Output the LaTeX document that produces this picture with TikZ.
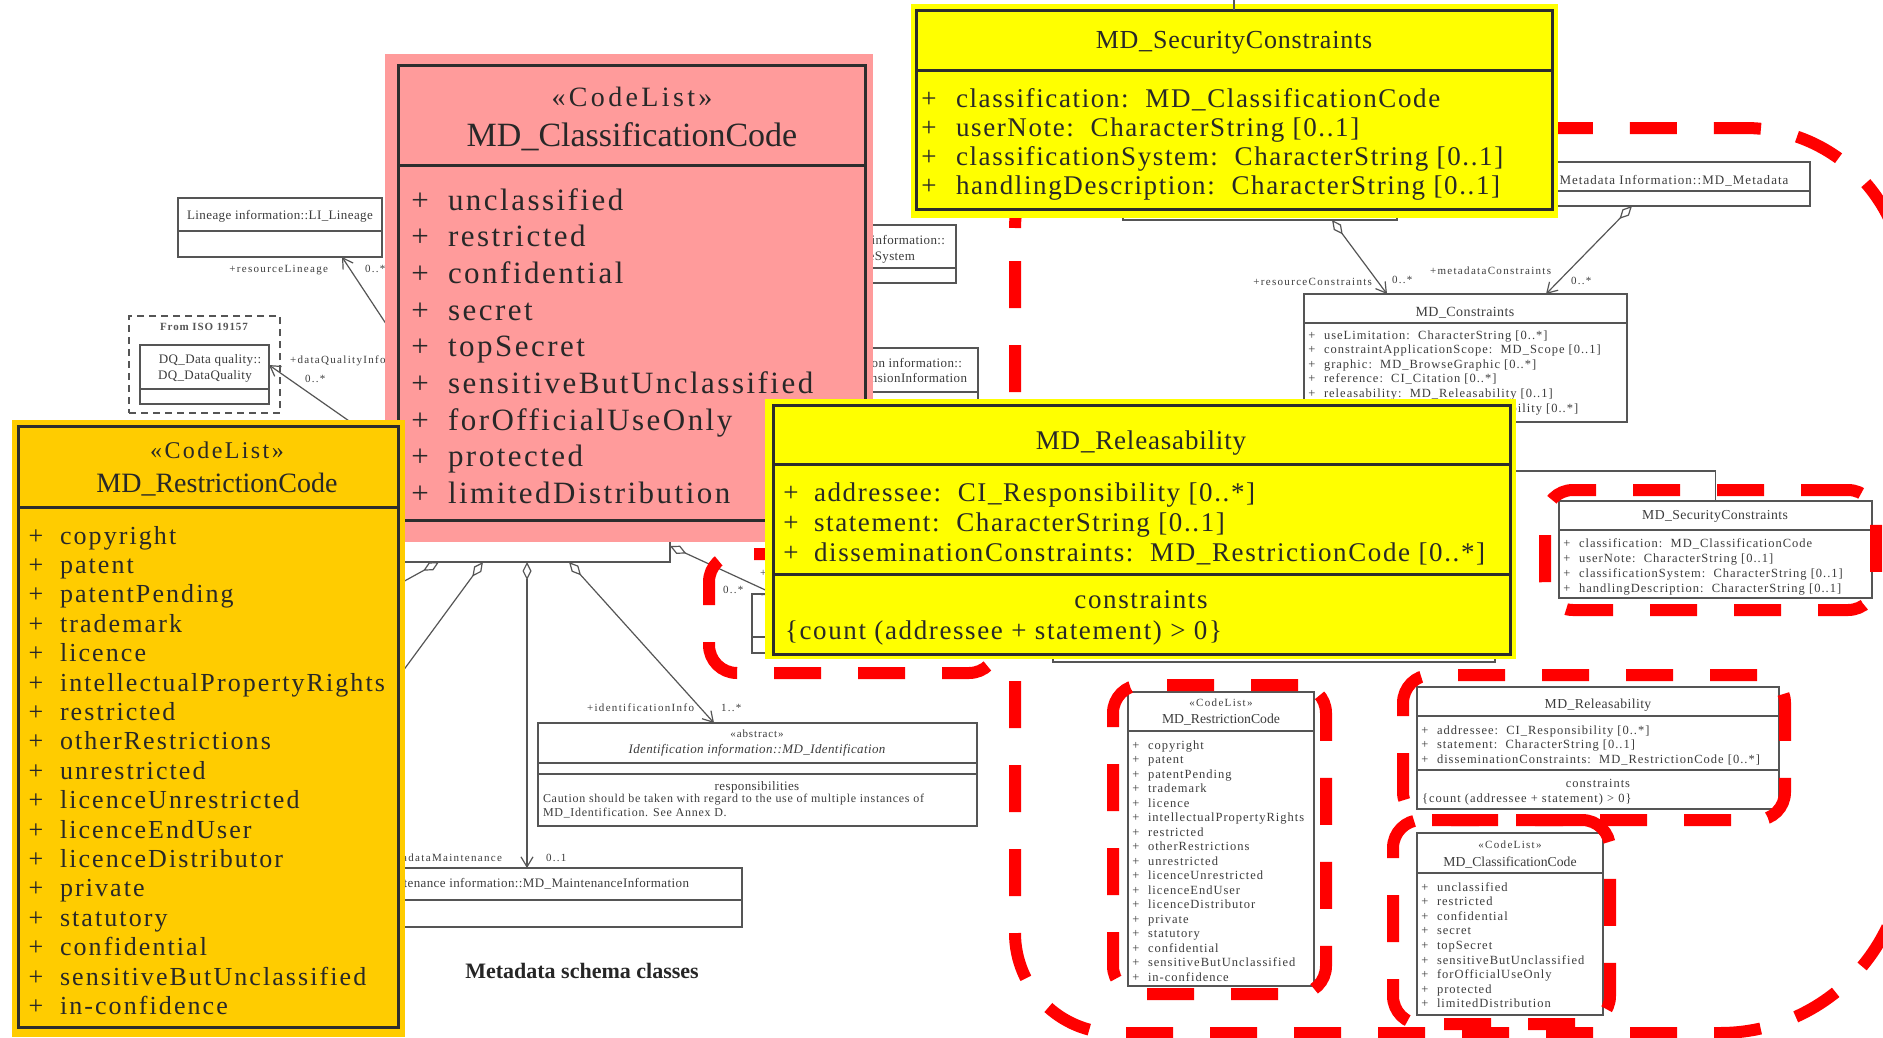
\documentclass[tikz,border=0pt]{standalone}
\usepackage{fontspec}
\setmainfont{Liberation Serif}
\newfontfamily\fLa{Liberation Serif}[LetterSpace=3]
\newfontfamily\fLb{Liberation Serif}[LetterSpace=6]
\newfontfamily\fLc{Liberation Serif}[LetterSpace=8]
\newfontfamily\fLd{Liberation Serif}[LetterSpace=10]
\newfontfamily\fLe{Liberation Serif}[LetterSpace=12]
\newcommand\sz[1]{\fontsize{#1}{#1}\selectfont}
\usetikzlibrary{arrows.meta}
\definecolor{pinkc}{RGB}{255,155,155}
\definecolor{orangec}{RGB}{255,204,0}
\definecolor{yellowc}{RGB}{255,255,0}
\definecolor{redd}{RGB}{255,0,0}
\definecolor{lnc}{RGB}{85,85,85}
\definecolor{txtc}{RGB}{60,60,60}
\definecolor{hlc}{RGB}{45,45,45}
\definecolor{hltxt}{RGB}{40,40,40}
\newcommand\mkbox[6][umlbox]{\node[#1,minimum width={(#5-#3)*1pt},minimum height={(#6-#4)*1pt}] (#2) at (#3,#4) {};}
\newcommand\divl[2]{\draw[ul] (#1.west |- 0,#2) -- (#1.east |- 0,#2);}
\newcommand\hdiv[2]{\draw[hll] (#1.west |- 0,#2) -- (#1.east |- 0,#2);}
\begin{document}
\begin{tikzpicture}[x=1pt,y=-1pt,
  umlbox/.style={draw=lnc,line width=1.3pt,fill=white,inner sep=0pt,outer sep=0pt,anchor=north west},
  hlbox/.style={draw=hlc,line width=3pt,inner sep=0pt,outer sep=0pt,anchor=north west},
  bgbox/.style={draw=none,inner sep=0pt,outer sep=0pt,anchor=north west},
  dqbox/.style={draw=lnc,line width=1.5pt,dash pattern=on 7pt off 5pt,fill=white,inner sep=0pt,outer sep=0pt,anchor=north west},
  rdbox/.style={draw=redd,line width=12pt,dash pattern=on 47pt off 37pt,rounded corners=28pt,inner sep=0pt,outer sep=0pt,anchor=north west},
  ul/.style={draw=lnc,line width=1.3pt},
  hll/.style={draw=hlc,line width=3pt},
  conn/.style={draw=lnc,line width=1.2pt},
  arr/.style={-{Straight Barb[length=10pt,width=12pt]}},
  diaarr/.style={{Diamond[fill=white,length=18pt,width=9pt]}-{Straight Barb[length=10pt,width=12pt]}},
  dia/.style={{Diamond[fill=white,length=18pt,width=9pt]}-},
  tx/.style={inner sep=0pt,outer sep=0pt,text=txtc},
  ht/.style={inner sep=0pt,outer sep=0pt,text=hltxt},
]
\useasboundingbox (0,0) rectangle (1883,1037);
\clip (0,0) rectangle (1883,1037);
\fill[white] (0,0) rectangle (1883,1037);

% ---------- ordinary (partly hidden) boxes ----------
\mkbox{hid1}{395}{100}{670}{562}
\mkbox{hsys}{780}{225}{956}{283} \divl{hsys}{268}
\node[tx,anchor=base east,font=\fLa\sz{13}] (hsys1) at (945,244.2) {Reference System information::};
\node[tx,anchor=base east,font=\fLa\sz{13}] (hsys2) at (915,260.2) {MD\_ReferenceSystem};
\mkbox{hext}{780}{348}{978}{430} \divl{hext}{392}
\node[tx,anchor=base east,font=\fLa\sz{13}] (hext1) at (962,367.2) {Extension information::};
\node[tx,anchor=base east,font=\fLa\sz{13}] (hext2) at (967,382.2) {MD\_MetadataExtensionInformation};
\mkbox{htop}{1123}{150}{1397}{220}
\mkbox{hrel}{1053}{430}{1495}{662}
\mkbox{hsm}{752}{594}{912}{653} \divl{hsm}{637}

\mkbox{lin}{178}{198}{382}{257} \divl{lin}{231}
\node[tx,anchor=base,font=\fLa\sz{13}] (lint) at (280,219.2) {Lineage information::LI\_Lineage};
\mkbox[dqbox]{dqc}{129}{316}{280}{413}
\node[tx,anchor=base,font=\fLc\bfseries\sz{11},text=lnc] (dqct) at (204,330.5) {From ISO 19157};
\mkbox{dq}{140}{345}{269}{404} \divl{dq}{389}
\node[tx,anchor=base,font=\fLa\sz{13}] (dqt1) at (210,363.2) {DQ\_Data quality::};
\node[tx,anchor=base,font=\fLa\sz{13}] (dqt2) at (205,379.2) {DQ\_DataQuality};

\mkbox{mdm}{1555}{162}{1810}{206} \divl{mdm}{191}
\node[tx,anchor=base,font=\fLc\sz{13}] (mdmt) at (1674,184.2) {Metadata Information::MD\_Metadata};

\mkbox{mdc}{1304}{294}{1627}{422} \divl{mdc}{323}
\node[tx,anchor=base,font=\fLa\sz{14}] (mdct) at (1465,316.5) {MD\_Constraints};
\foreach \w [count=\i from 0] in {{useLimitation:\ \ CharacterString [0..*]},{constraintApplicationScope:\ \ MD\_Scope [0..1]},{graphic:\ \ MD\_BrowseGraphic [0..*]},{reference:\ \ CI\_Citation [0..*]},{releasability:\ \ MD\_Releasability [0..1]},{responsibleParty:\ \ CI\_Responsibility [0..*]}}{
  \node[tx,anchor=base,font=\fLc\sz{12.5}] (mdcp\i) at (1312,{339+14.6*\i}) {+};
  \node[tx,anchor=base west,font=\fLc\sz{12.5}] (mdci\i) at (1324,{339+14.6*\i}) {\w};
}

\mkbox{ssc}{1559}{501}{1872}{598} \divl{ssc}{530}
\node[tx,anchor=base,font=\fLa\sz{13.7}] (ssct) at (1715,519.4) {MD\_SecurityConstraints};
\foreach \w [count=\i from 0] in {{classification:\ \ MD\_ClassificationCode},{userNote:\ \ CharacterString [0..1]},{classificationSystem:\ \ CharacterString [0..1]},{handlingDescription:\ \ CharacterString [0..1]}}{
  \node[tx,anchor=base,font=\fLc\sz{12.5}] (sscp\i) at (1567,{547+15*\i}) {+};
  \node[tx,anchor=base west,font=\fLc\sz{12.5}] (ssci\i) at (1579,{547+15*\i}) {\w};
}

\mkbox{srel}{1417}{687}{1779}{809} \divl{srel}{716} \divl{srel}{770}
\node[tx,anchor=base,font=\fLa\sz{13.7}] (srelt) at (1598,708.4) {MD\_Releasability};
\foreach \w [count=\i from 0] in {{addressee:\ \ CI\_Responsibility [0..*]},{statement:\ \ CharacterString [0..1]},{disseminationConstraints:\ \ MD\_RestrictionCode [0..*]}}{
  \node[tx,anchor=base,font=\fLc\sz{12.5}] (srelp\i) at (1425,{734+14.6*\i}) {+};
  \node[tx,anchor=base west,font=\fLc\sz{12.5}] (sreli\i) at (1437,{734+14.6*\i}) {\w};
}
\node[tx,anchor=base,font=\fLc\sz{12.5}] (srelc) at (1598,787) {constraints};
\node[tx,anchor=base west,font=\fLc\sz{12.5}] (srelk) at (1422,802) {\{count (addressee + statement) > 0\}};

\mkbox{scls}{1417}{833}{1603}{1015} \divl{scls}{873}
\node[tx,anchor=base,font=\fLe\sz{11}] (sclss) at (1510,848.5) {«CodeList»};
\node[tx,anchor=base,font=\sz{13.7}] (sclst) at (1510,866.4) {MD\_ClassificationCode};
\foreach \w [count=\i from 0] in {unclassified,restricted,confidential,secret,topSecret,sensitiveButUnclassified,forOfficialUseOnly,protected,limitedDistribution}{
  \node[tx,anchor=base,font=\fLc\sz{12.5}] (sclsp\i) at (1425,{891+14.6*\i}) {+};
  \node[tx,anchor=base west,font=\fLc\sz{12.5}] (sclsi\i) at (1437,{891+14.6*\i}) {\w};
}

\mkbox{sres}{1128}{692}{1314}{986} \divl{sres}{731}
\node[tx,anchor=base,font=\fLe\sz{11}] (sress) at (1221,706.5) {«CodeList»};
\node[tx,anchor=base,font=\sz{13.7}] (srest) at (1221,723.4) {MD\_RestrictionCode};
\foreach \w [count=\i from 0] in {copyright,patent,patentPending,trademark,licence,intellectualPropertyRights,restricted,otherRestrictions,unrestricted,licenceUnrestricted,licenceEndUser,licenceDistributor,private,statutory,confidential,sensitiveButUnclassified,in-confidence}{
  \node[tx,anchor=base,font=\fLc\sz{12.5}] (sresp\i) at (1136,{749+14.5*\i}) {+};
  \node[tx,anchor=base west,font=\fLc\sz{12.5}] (sresi\i) at (1148,{749+14.5*\i}) {\w};
}

\mkbox{ident}{538}{723}{977}{826} \divl{ident}{763} \divl{ident}{774}
\node[tx,anchor=base,font=\fLc\sz{11}] (ids) at (757,737.5) {«abstract»};
\node[tx,anchor=base,font=\fLa\itshape\sz{13}] (idt) at (757,753.2) {Identification information::MD\_Identification};
\node[tx,anchor=base,font=\fLa\sz{13}] (idr) at (757,790.2) {responsibilities};
\node[tx,anchor=base west,font=\fLb\sz{12}] (idc1) at (543,802.8) {Caution should be taken with regard to the use of multiple instances of};
\node[tx,anchor=base west,font=\fLb\sz{12}] (idc2) at (543,816.8) {MD\_Identification. See Annex D.};

\mkbox{mnt}{312}{868}{742}{927} \divl{mnt}{900}
\node[tx,anchor=base east,font=\fLa\sz{13}] (mntt) at (689,887.2) {Maintenance information::MD\_MaintenanceInformation};

\node[tx,anchor=base,font=\bfseries\sz{22},text=black!85] (caption) at (582,978) {Metadata schema classes};

% ---------- connectors ----------
\coordinate (cLinS) at (400,345);
\draw[conn,arr] (cLinS) -- (lin.south -| 342,0);
\node[tx,anchor=base east,font=\fLe\sz{11}] (l1) at (328,272.5) {+resourceLineage};
\node[tx,anchor=base west,font=\fLe\sz{11}] (l2) at (365,272.5) {0..*};

\coordinate (cDqS) at (362,430);
\draw[conn,arr] (cDqS) -- (dq.east |- 0,365);
\node[tx,anchor=base west,font=\fLe\sz{11}] (l3) at (290,363.5) {+dataQualityInfo};
\node[tx,anchor=base west,font=\fLe\sz{11}] (l4) at (305,382.5) {0..*};

\coordinate (cD1e) at (390,589);
\draw[conn,dia] (hid1.south -| 439,0) -- (cD1e);
\coordinate (cD2e) at (400,675);
\draw[conn,dia] (hid1.south -| 483,0) -- (cD2e);
\draw[conn,diaarr] (hid1.south -| 527,0) -- (mnt.north);
\node[tx,anchor=base east,font=\fLe\sz{11}] (l5) at (502,861.5) {+metadataMaintenance};
\node[tx,anchor=base west,font=\fLe\sz{11}] (l6) at (546,861.5) {0..1};
\draw[conn,diaarr] (hid1.south -| 569,0) -- (ident.north -| 714,0);
\node[tx,anchor=base east,font=\fLe\sz{11}] (l7) at (694,711.5) {+identificationInfo};
\node[tx,anchor=base west,font=\fLe\sz{11}] (l8) at (721,711.5) {1..*};
\draw[conn,diaarr] (hid1.east |- 0,546) -- (hsm.north -| 774,0);
\node[tx,anchor=base west,font=\fLe\sz{11}] (l9) at (723,593.5) {0..*};
\node[tx,anchor=base west,font=\fLe\sz{11}] (l10) at (760,576.5) {+};

\draw[conn,diaarr] (htop.south -| 1332,0) -- (mdc.north -| 1387,0);
\node[tx,anchor=base east,font=\fLe\sz{11}] (l11) at (1372,285.5) {+resourceConstraints};
\node[tx,anchor=base west,font=\fLe\sz{11}] (l12) at (1392,283.5) {0..*};
\draw[conn,diaarr] (mdm.south -| 1632,0) -- (mdc.north -| 1546,0);
\node[tx,anchor=base west,font=\fLe\sz{11}] (l13) at (1430,274.5) {+metadataConstraints};
\node[tx,anchor=base west,font=\fLe\sz{11}] (l14) at (1571,284.5) {0..*};

\coordinate (cGen) at (1505,471);
\draw[conn] (ssc.north) |- (cGen);

% ---------- red dashed highlights ----------
\mkbox[rdbox]{rd1}{1545}{490}{1876}{610}
\mkbox[rdbox]{rd2}{1403}{675}{1785}{820}
\mkbox[rdbox]{rd3}{1393}{820}{1610}{1024}
\mkbox[rdbox]{rd4}{1113}{685}{1326}{994}
\mkbox[rdbox]{rd5}{709}{554}{997}{673}
\draw[draw=redd,line width=12pt,dash pattern=on 47pt off 37pt]
  (1015,228) .. controls (1015,172.8) and (1059.8,128) .. (1115,128) -- (1745,128)
  .. controls (1833.3,128) and (1905,199.7) .. (1905,288) -- (1905,848)
  .. controls (1905,950.1) and (1822.1,1033) .. (1720,1033) -- (1115,1033)
  .. controls (1059.8,1033) and (1015,988.2) .. (1015,933) -- cycle;

% ---------- pink enlarged MD_ClassificationCode ----------
\mkbox[bgbox,fill=pinkc]{pkbg}{385}{54}{873}{542}
\mkbox[hlbox]{pkb}{398}{65}{865}{520} \hdiv{pkb}{165}
\node[ht,anchor=base,font=\fLe\sz{28}] (pks) at (632,106) {«CodeList»};
\node[ht,anchor=base,font=\sz{34}] (pkt) at (632,146) {MD\_ClassificationCode};
\foreach \w [count=\i from 0] in {unclassified,restricted,confidential,secret,topSecret,sensitiveButUnclassified,forOfficialUseOnly,protected,limitedDistribution}{
  \node[ht,anchor=base,font=\fLc\sz{31}] (pkp\i) at (420,{210+36.67*\i}) {+};
  \node[ht,anchor=base west,font=\fLc\sz{31}] (pki\i) at (448,{210+36.67*\i}) {\w};
}

% ---------- orange enlarged MD_RestrictionCode ----------
\mkbox[bgbox,fill=orangec]{orbg}{12}{420}{405}{1037}
\mkbox[hlbox]{orb}{18}{426}{398}{1027} \hdiv{orb}{507}
\node[ht,anchor=base,font=\fLd\sz{24}] (ors) at (217,458) {«CodeList»};
\node[ht,anchor=base,font=\sz{28}] (ort) at (217,492) {MD\_RestrictionCode};
\foreach \w [count=\i from 0] in {copyright,patent,patentPending,trademark,licence,intellectualPropertyRights,restricted,otherRestrictions,unrestricted,licenceUnrestricted,licenceEndUser,licenceDistributor,private,statutory,confidential,sensitiveButUnclassified,in-confidence}{
  \node[ht,anchor=base,font=\fLc\sz{26}] (orp\i) at (36,{544+29.4*\i}) {+};
  \node[ht,anchor=base west,font=\fLc\sz{26}] (ori\i) at (60,{544+29.4*\i}) {\w};
}

% ---------- yellow enlarged MD_SecurityConstraints ----------
\mkbox[bgbox,fill=yellowc]{sybg}{911}{4}{1558}{218}
\mkbox[hlbox]{syb}{916}{10}{1552}{209} \hdiv{syb}{70}
\node[ht,anchor=base,font=\fLa\sz{26}] (syt) at (1234,48.5) {MD\_SecurityConstraints};
\foreach \w [count=\i from 0] in {{classification:\ \ MD\_ClassificationCode},{userNote:\ \ CharacterString [0..1]},{classificationSystem:\ \ CharacterString [0..1]},{handlingDescription:\ \ CharacterString [0..1]}}{
  \node[ht,anchor=base,font=\fLb\sz{27}] (syp\i) at (929,{107.6+29*\i}) {+};
  \node[ht,anchor=base west,font=\fLb\sz{27}] (syi\i) at (956,{107.6+29*\i}) {\w};
}
\coordinate (cTop) at (1234,0);
\draw[conn] (cTop) -- (syb.north);

% ---------- yellow enlarged MD_Releasability ----------
\mkbox[bgbox,fill=yellowc]{rybg}{765}{399}{1516}{659}
\mkbox[hlbox]{ryb}{773}{405}{1510}{654} \hdiv{ryb}{464} \hdiv{ryb}{574}
\node[ht,anchor=base,font=\fLa\sz{27}] (ryt) at (1141,449.6) {MD\_Releasability};
\foreach \w [count=\i from 0] in {{addressee:\ \ CI\_Responsibility [0..*]},{statement:\ \ CharacterString [0..1]},{disseminationConstraints:\ \ MD\_RestrictionCode [0..*]}}{
  \node[ht,anchor=base,font=\fLb\sz{27}] (ryp\i) at (791,{501.6+30*\i}) {+};
  \node[ht,anchor=base west,font=\fLb\sz{27}] (ryi\i) at (814,{501.6+30*\i}) {\w};
}
\node[ht,anchor=base,font=\fLb\sz{27}] (ryc) at (1141,608.6) {constraints};
\node[ht,anchor=base west,font=\fLb\sz{27}] (ryk) at (785,639.6) {\{count (addressee + statement) > 0\}};
\end{tikzpicture}
\end{document}
